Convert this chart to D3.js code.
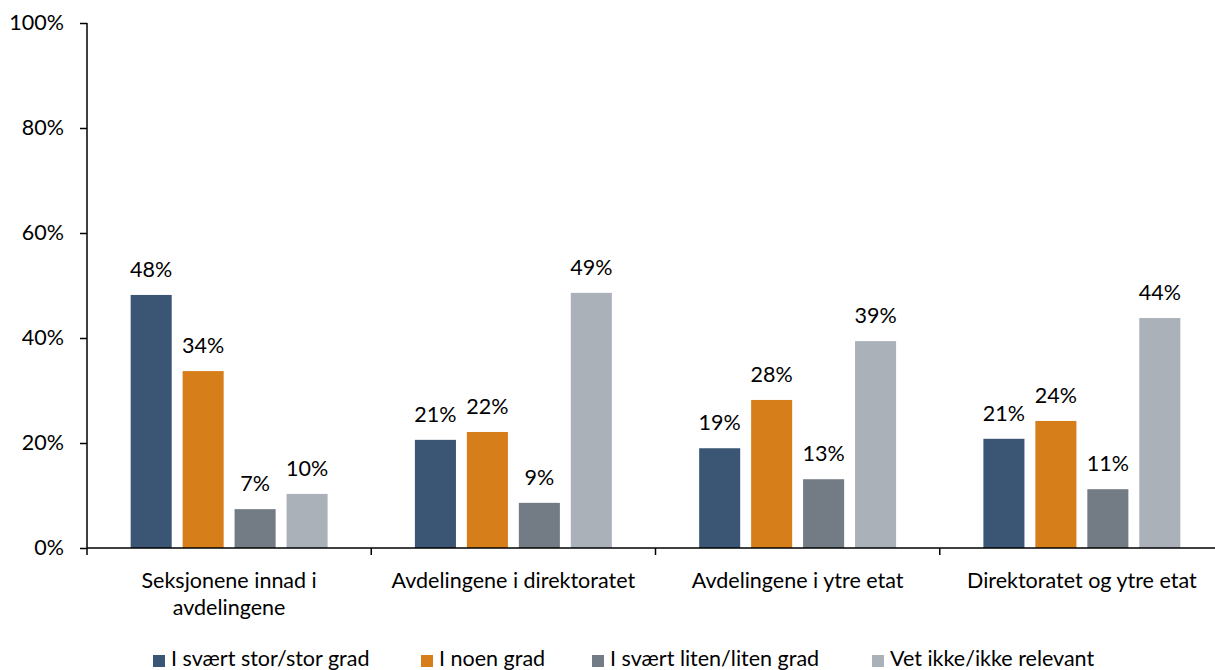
<!DOCTYPE html>
<html><head><meta charset="utf-8">
<script src="https://cdn.jsdelivr.net/npm/d3@7"></script>
<style>body{margin:0;background:#fff}text{font-family:Lato,"Open Sans",sans-serif;fill:#000}</style>
</head><body><svg id="c" width="1215" height="670"></svg>
<script>
const categories = [["Seksjonene innad i","avdelingene"],["Avdelingene i direktoratet"],["Avdelingene i ytre etat"],["Direktoratet og ytre etat"]];
const seriesNames = ["I svært stor/stor grad","I noen grad","I svært liten/liten grad","Vet ikke/ikke relevant"];
const colors = ["#3A5674","#D67F1A","#737B84","#ABB1B8"];
const s1 = [0.482,0.206,0.190,0.208];
const s2 = [0.337,0.221,0.282,0.242];
const s3 = [0.074,0.086,0.131,0.112];
const s4 = [0.103,0.486,0.394,0.438];
const labels1 = ["48%","21%","19%","21%"];
const labels2 = ["34%","22%","28%","24%"];
const labels3 = ["7%","9%","13%","11%"];
const labels4 = ["10%","49%","39%","44%"];
const yTicks = [0,0.2,0.4,0.6,0.8,1.0];

const FS = "21.5px";
const series = [s1,s2,s3,s4];
const seriesLabels = [labels1,labels2,labels3,labels4];
const svg = d3.select("#c");
const x0 = d3.scaleBand().domain(d3.range(categories.length)).range([87,1224]).paddingInner(0).paddingOuter(0);
const x1 = d3.scaleBand().domain(d3.range(4)).range([0,x0.bandwidth()]).paddingInner(0.21).paddingOuter(0.84);
const y = d3.scaleLinear().domain([0,1]).range([548,23]);

// y axis
const ya = svg.append("g").attr("transform","translate(87,0)")
  .call(d3.axisLeft(y).tickValues(yTicks).tickFormat(d3.format(".0%")).tickSize(7).tickPadding(16));
ya.select(".domain").attr("stroke","#000").attr("stroke-width",1.5).attr("d","M0,23V548");
ya.selectAll(".tick line").attr("stroke","#000").attr("stroke-width",1.5);
ya.selectAll(".tick text").style("font-size",FS).attr("fill","#000");

// bars
categories.forEach((c,i)=>{
  const g = svg.append("g").attr("transform",`translate(${x0(i)},0)`);
  series.forEach((s,j)=>{
    g.append("rect").attr("x",x1(j)).attr("width",x1.bandwidth())
      .attr("y",y(s[i])).attr("height",y(0)-y(s[i])).attr("fill",colors[j]);
    g.append("text").attr("x",x1(j)+x1.bandwidth()/2).attr("y",y(s[i])-18)
      .attr("text-anchor","middle").style("font-size",FS).text(seriesLabels[j][i]);
  });
});

// x axis
const xa = svg.append("g").attr("transform","translate(0,548)");
xa.append("line").attr("x1",87).attr("x2",1215).attr("stroke","#000").attr("stroke-width",1.5);
categories.forEach((c,i)=>{
  const xs = x0(i);
  xa.append("line").attr("x1",xs).attr("x2",xs).attr("y1",0).attr("y2",7).attr("stroke","#000").attr("stroke-width",1.5);
  const t = xa.append("text").attr("text-anchor","middle").style("font-size",FS);
  c.forEach((line,k)=>{
    t.append("tspan").attr("x",xs+x0.bandwidth()/2).attr("y",40+k*27).text(line);
  });
});

// legend
const legendX = [153,421,592,872];
seriesNames.forEach((n,j)=>{
  svg.append("rect").attr("x",legendX[j]).attr("y",655).attr("width",12).attr("height",12).attr("fill",colors[j]);
  svg.append("text").attr("x",legendX[j]+18).attr("y",666).style("font-size",FS).text(n);
});
</script></body></html>
